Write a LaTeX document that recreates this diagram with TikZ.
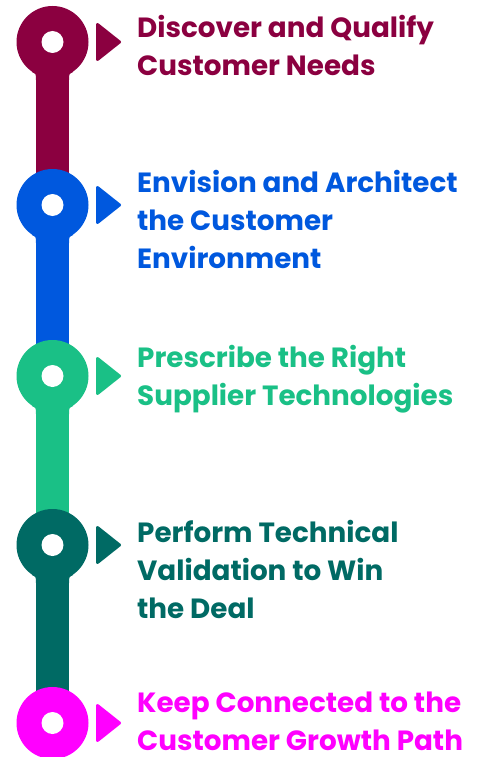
\documentclass[tikz,border=0pt]{standalone}
\usepackage{fontspec}
\setmainfont{Poppins}
\usetikzlibrary{calc}
\definecolor{cMaroon}{RGB}{139,0,64}
\definecolor{cBlue}{RGB}{0,88,222}
\definecolor{cGreen}{RGB}{26,192,134}
\definecolor{cTeal}{RGB}{0,106,100}
\definecolor{cMagenta}{RGB}{255,0,255}
\tikzset{
  hub/.style={circle, fill=#1, minimum size=72pt, inner sep=0pt},
  hole/.style={circle, fill=white, minimum size=22pt, inner sep=0pt},
  stem/.style={line width=33pt, draw=#1, line cap=butt},
  pointer/.style={fill=#1, draw=#1, line width=3pt, line join=round},
  label/.style={text=#1, anchor=base west, align=left, inner sep=0pt, text depth=0pt,
    font=\bfseries\fontsize{27.8pt}{38pt}\selectfont},
}
% fillet between a stem and the bottom of its hub, left and right
\newcommand\filletpair[2]{%
  \fill[#2] ($(#1.center)+(-16.5,38)$) .. controls ($(#1.center)+(-16.5,32)$) .. ($(#1.center)+(-20.5,30)$) -- (#1.center) -- cycle;
  \fill[#2] ($(#1.center)+(16.5,38)$) .. controls ($(#1.center)+(16.5,32)$) .. ($(#1.center)+(20.5,30)$) -- (#1.center) -- cycle;
}
\begin{document}
\begin{tikzpicture}[x=1pt, y=-1pt]
\useasboundingbox (0,0) rectangle (483,757);
% hub positions
\coordinate (p1) at (52.5,42);
\coordinate (p2) at (52.5,205);
\coordinate (p3) at (52.5,376);
\coordinate (p4) at (52.5,545);
\coordinate (p5) at (52.5,723);
\foreach \i/\j/\c in {1/2/cMaroon, 2/3/cBlue, 3/4/cGreen, 4/5/cTeal, 5/0/cMagenta}{
  \ifnum\j>0
    \draw[stem=\c] (p\i) -- (p\j);
  \fi
  \node[hub=\c] (h\i) at (p\i) {};
  \ifnum\j>0
    \filletpair{h\i}{\c}
  \fi
  \node[hole] (o\i) at (p\i) {};
  \filldraw[pointer=\c] ($(p\i)+(45,-17.5)$) -- ($(p\i)+(45,17.5)$) -- ($(p\i)+(67,0)$) -- cycle;
}
% text blocks, placed by the baseline of their last line
\node[label=cMaroon] (t1) at (137,76) {Discover and Qualify\\Customer Needs};
\node[label=cBlue] (t2) at (137,268) {Envision and Architect\\the Customer\\Environment};
\node[label=cGreen] (t3) at (137,405) {Prescribe the Right\\Supplier Technologies};
\node[label=cTeal] (t4) at (137,618) {Perform Technical\\Validation to Win\\the Deal};
\node[label=cMagenta] (t5) at (137,750) {Keep Connected to the\\Customer Growth Path};
\end{tikzpicture}
\end{document}
